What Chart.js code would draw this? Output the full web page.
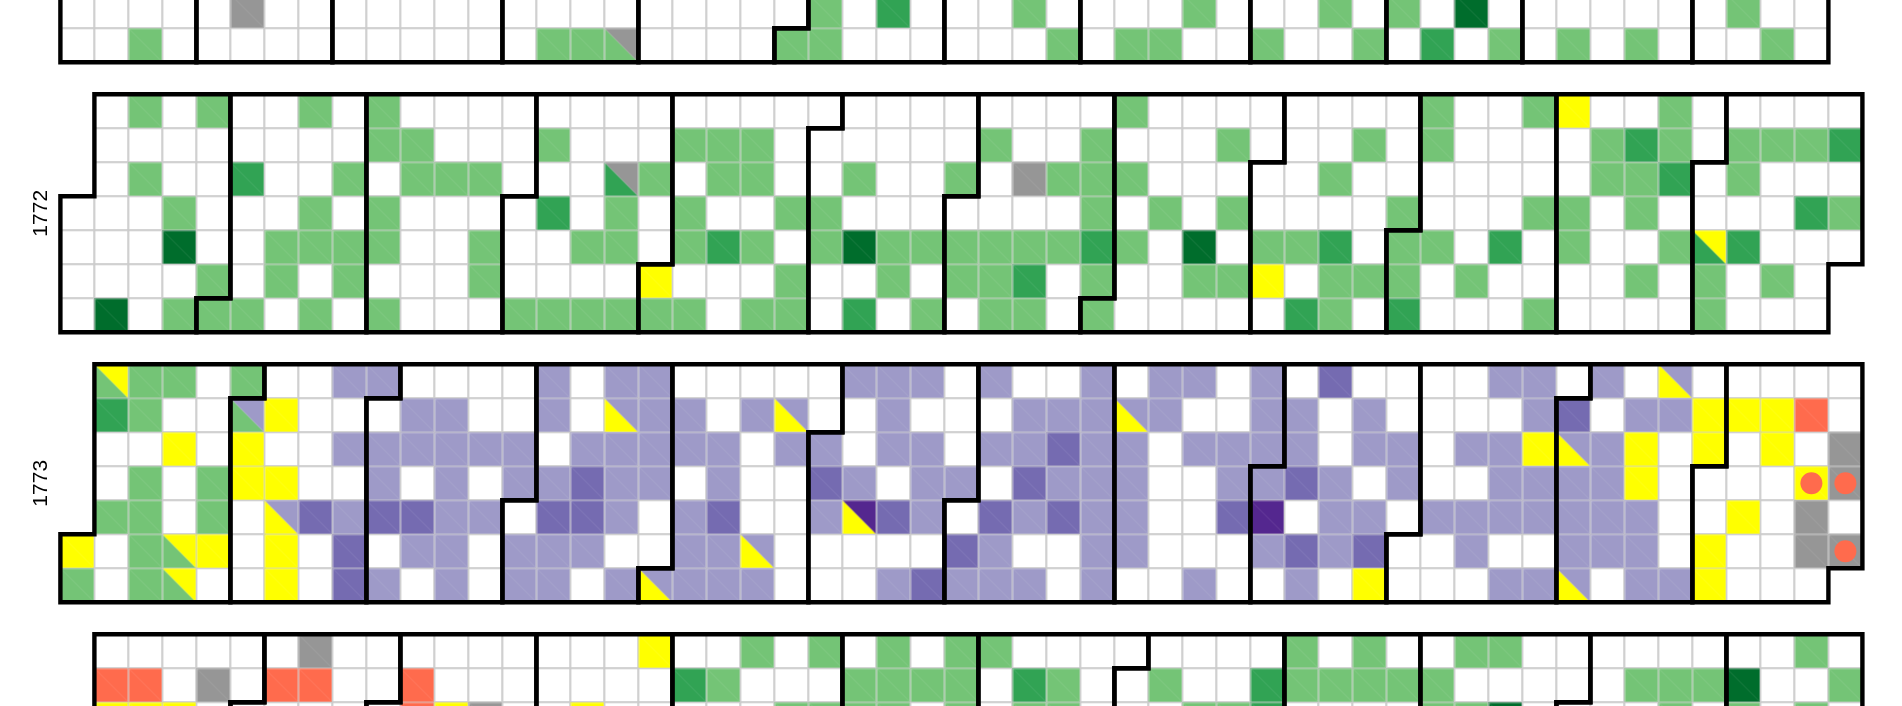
<!DOCTYPE html>
<html>
<head>
<meta charset="utf-8">
<style>
html,body{margin:0;padding:0;background:#fff;overflow:hidden}
canvas{display:block}
</style>
<script src="https://cdn.jsdelivr.net/npm/chart.js@4"></script>
</head>
<body>
<canvas id="c" width="1902" height="706"></canvas>
<script>
// Tokens: <code><week column>, or <lower code><column>/<upper code> for a day split on its diagonal.
const years = [1771, 1772, 1773, 1774];
// Only the rows (Sunday = 0) that are visible in the picture are listed.
const days1771 = {
  5: "k5 g22 m24 g28 g33 g37 g39 d41 g49",
  6: "g2 g14 g15 g16/k g21 g22 g29 g31 g32 g35 g38 m40 g42 g44 g46 g50"
};
const days1772 = {
  0: "g2 g4 g7 g9 g31 g40 g43 y44 g47",
  1: "g9 g10 g14 g18 g19 g20 g27 g30 g34 g38 g40 g45 m46 g47 g49 g50 g51 m52",
  2: "g2 m5 g8 g10 g11 g12 m16/k g17 g19 g20 g23 g26 k28 g29 g30 g31 g37 g45 g46 m47 g49",
  3: "g3 g7 g9 m14 g16 g18 g21 g22 g30 g32 g34 g39 g43 g44 g46 m51 g52",
  4: "d3 g6 g7 g8 g9 g12 g15 g16 g18 m19 g20 g22 d23 g24 g25 g26 g27 g28 g29 m30 g31 d33 g35 g36 m37 g39 g40 m42 g44 g47 m48/y m49",
  5: "g4 g6 g8 g12 y17 g21 g24 g26 g27 m28 g30 g33 g34 y35 g37 g38 g39 g41 g46 g48 g50",
  6: "d1 g3 g4 g5 g7 g9 g13 g14 g15 g16 g17 g18 g20 g21 m23 g25 g27 g28 g30 m36 g37 m39 g43 g48"
};
const days1773 = {
  0: "g1/y g2 g3 g5 p8 p9 p14 p16 p17 p23 p24 p25 p27 p30 p32 p33 p35 q37 p42 p43 p45 y47/p",
  1: "m1 g2 g5/p y6 p10 p11 p14 y16/p p17 p18 p20 y21/p p24 p28 p29 p30 y31/p p32 p35 p36 p38 p43 q44 p46 p47 y48 y49 y50 r51",
  2: "y3 y5 p8 p9 p10 p11 p12 p13 p15 p16 p17 p18 p19 p21 p22 p24 p25 p27 p28 q29 p30 p31 p33 p34 p35 p36 p38 p39 p41 p42 y43 y44/p p45 y46 y48 y50 k52",
  3: "g2 g4 y5 y6 p9 p11 p13 p14 q15 p16 p17 p19 q22 p23 p25 p26 q28 p29 p30 p31 p34 p35 q36 p37 p39 p42 p43 p44 p45 y46 y51 k52",
  4: "g1 g2 g4 y6/p q7 p8 q9 q10 p11 p12 q14 q15 p16 p18 q19 p22 y23/v q24 p25 q27 p28 q29 p30 p31 q34 v35 p37 p38 p40 p41 p42 p43 p44 p45 p46 y49 k51",
  5: "y0 g2 g3/y y4 y6 q8 p10 p11 p13 p14 p15 p18 p19 y20/p q26 p27 p30 p31 p35 q36 p37 q38 p41 p44 p45 p46 y48 k51 k52",
  6: "g0 g2 g3/y y6 q8 p9 p11 p13 p14 p16 y17/p p18 p19 p20 p24 q25 p26 p27 p28 p30 p33 p36 y38 p42 p43 y44/p p46 p47 y48"
};
const days1774 = {
  0: "k7 y17 g20 g22 g24 g26 g27 g36 g38 g41 g42 g51",
  1: "r1 r2 k4 r6 r7 r10 m18 g19 g23 g24 g25 g26 m28 g29 g32 m35 g36 g37 g38 g39 g40 g46 g47 g48 d49 g52",
  2: "y1 y2 y3 r10 y11 k12 y15 g21 g22 g23 g24 g26 g28 g29 g33 g34 m35 g40 g41 d42 g47 g49 g51"
};
const dotYears = [1773, 1773, 1773];
const dotColumns = [51, 52, 52];
const dotRows = [3, 3, 5];
const daysByYear = {1771: days1771, 1772: days1772, 1773: days1773, 1774: days1774};

const palette = {
  g: "#74c476", m: "#31a354", d: "#006d2c",
  p: "#9e9ac8", q: "#756bb1", v: "#54278f",
  y: "#ffff00", r: "#ff6b4d", k: "#969696"
};
const CELL = 34, LEFT = 60.4, TOP_1772 = 94.3, YEAR_PITCH = 270 / CELL, AXIS_W = 56, W = 1902, H = 706;
const yearBase = yr => (yr - 1772) * YEAR_PITCH;
const DAY = 86400000;
const dowOf = t => new Date(t).getUTCDay();
const weekOf = (t, yr) => {
  const start = Date.UTC(yr, 0, 1);
  return Math.floor(((t - start) / DAY + dowOf(start)) / 7);
};

// Images for the two layers of a day cell
function baseImage() {
  const s = CELL + 4, c = document.createElement("canvas");
  c.width = c.height = s;
  const x = c.getContext("2d");
  x.fillStyle = "#ffffff"; x.fillRect(2, 2, CELL, CELL);
  x.strokeStyle = "#cccccc"; x.lineWidth = 1.7; x.strokeRect(2, 2, CELL, CELL);
  return c;
}
function splitImage(lower, upper) {
  const c = document.createElement("canvas");
  c.width = c.height = CELL;
  const x = c.getContext("2d"), a = 0.6, b = CELL - 0.6;
  x.fillStyle = lower;
  x.beginPath(); x.moveTo(a, a); x.lineTo(a, b); x.lineTo(b, b); x.closePath(); x.fill();
  x.fillStyle = upper;
  x.beginPath(); x.moveTo(a, a); x.lineTo(b, a); x.lineTo(b, b); x.closePath(); x.fill();
  if (lower === upper) {
    // keep only a faint seam along the diagonal
    x.strokeStyle = lower; x.globalAlpha = 0.7; x.lineWidth = 0.8;
    x.beginPath(); x.moveTo(a, a); x.lineTo(b, b); x.stroke();
  }
  return c;
}

const baseCells = [], groups = {}, monthPaths = [];
for (const yr of years) {
  const table = daysByYear[yr], codes = {};
  for (const row in table) {
    for (const tok of table[row].split(" ")) {
      const m = tok.match(/^([a-z])(\d+)(?:\/([a-z]))?$/);
      codes[m[2] + ":" + row] = [m[1], m[3] || m[1]];
    }
  }
  const end = Date.UTC(yr + 1, 0, 1);
  for (let t = Date.UTC(yr, 0, 1); t < end; t += DAY) {
    const col = weekOf(t, yr), row = dowOf(t);
    if (!(row in table)) continue;
    const point = {x: col + 0.5, y: yearBase(yr) + row + 0.5};
    baseCells.push(point);
    const code = codes[col + ":" + row];
    if (code) (groups[code.join("")] = groups[code.join("")] || []).push(point);
  }
  for (let mo = 0; mo < 12; mo++) {
    const t0 = Date.UTC(yr, mo, 1), t1 = Date.UTC(yr, mo + 1, 0);
    const d0 = dowOf(t0), w0 = weekOf(t0, yr), d1 = dowOf(t1), w1 = weekOf(t1, yr), b = yearBase(yr);
    const corners = [
      [w0 + 1, d0], [w0, d0], [w0, 7], [w1, 7], [w1, d1 + 1],
      [w1 + 1, d1 + 1], [w1 + 1, 0], [w0 + 1, 0], [w0 + 1, d0]
    ];
    monthPaths.push(corners.map(p => ({x: p[0], y: b + p[1]})));
  }
}

const datasets = [];
datasets.push({
  data: dotColumns.map((c, i) => ({x: c + 0.5, y: yearBase(dotYears[i]) + dotRows[i] + 0.5})),
  order: 0, pointStyle: "circle", pointRadius: 11, backgroundColor: palette.r, borderWidth: 0
});
for (const path of monthPaths) {
  datasets.push({
    data: path, order: 1, showLine: true, pointRadius: 0, borderColor: "#000000", borderWidth: 4.4,
    borderJoinStyle: "miter", borderCapStyle: "square", tension: 0, fill: false
  });
}
for (const key in groups) {
  datasets.push({
    data: groups[key], order: 2, pointRadius: 20, borderWidth: 0,
    backgroundColor: "rgba(0,0,0,0)",
    pointStyle: splitImage(palette[key[0]], palette[key[1]])
  });
}
datasets.push({
  data: baseCells, order: 3, pointRadius: 20, borderWidth: 0,
  backgroundColor: "rgba(0,0,0,0)", pointStyle: baseImage()
});

const yMin = -TOP_1772 / CELL, yMax = (H - TOP_1772) / CELL;
new Chart(document.getElementById("c"), {
  type: "scatter",
  data: {datasets},
  options: {
    responsive: false, animation: false, events: [],
    layout: {padding: 0, autoPadding: false},
    plugins: {legend: {display: false}, tooltip: {enabled: false}, title: {display: false}},
    scales: {
      x: {
        type: "linear", display: false, bounds: "data",
        min: (AXIS_W - LEFT) / CELL, max: (W - LEFT) / CELL
      },
      y: {
        type: "linear", reverse: true, bounds: "data", min: yMin, max: yMax,
        position: "left",
        grid: {display: false, drawTicks: false},
        border: {display: false},
        afterBuildTicks: s => {
          s.ticks = years.map(yr => ({value: yearBase(yr) + 3.5}))
            .filter(t => t.value > yMin && t.value < yMax);
        },
        afterFit: s => { s.width = AXIS_W; s.paddingTop = 0; s.paddingBottom = 0; s.paddingLeft = 0; s.paddingRight = 0; },
        ticks: {
          autoSkip: false, minRotation: 90, maxRotation: 90, crossAlign: "center", padding: -9,
          color: "#000000", font: {family: "'Liberation Sans', Arial, sans-serif", size: 21},
          callback: v => String(1772 + Math.round((v - 3.5) / YEAR_PITCH))
        }
      }
    }
  }
});
</script>
</body>
</html>
